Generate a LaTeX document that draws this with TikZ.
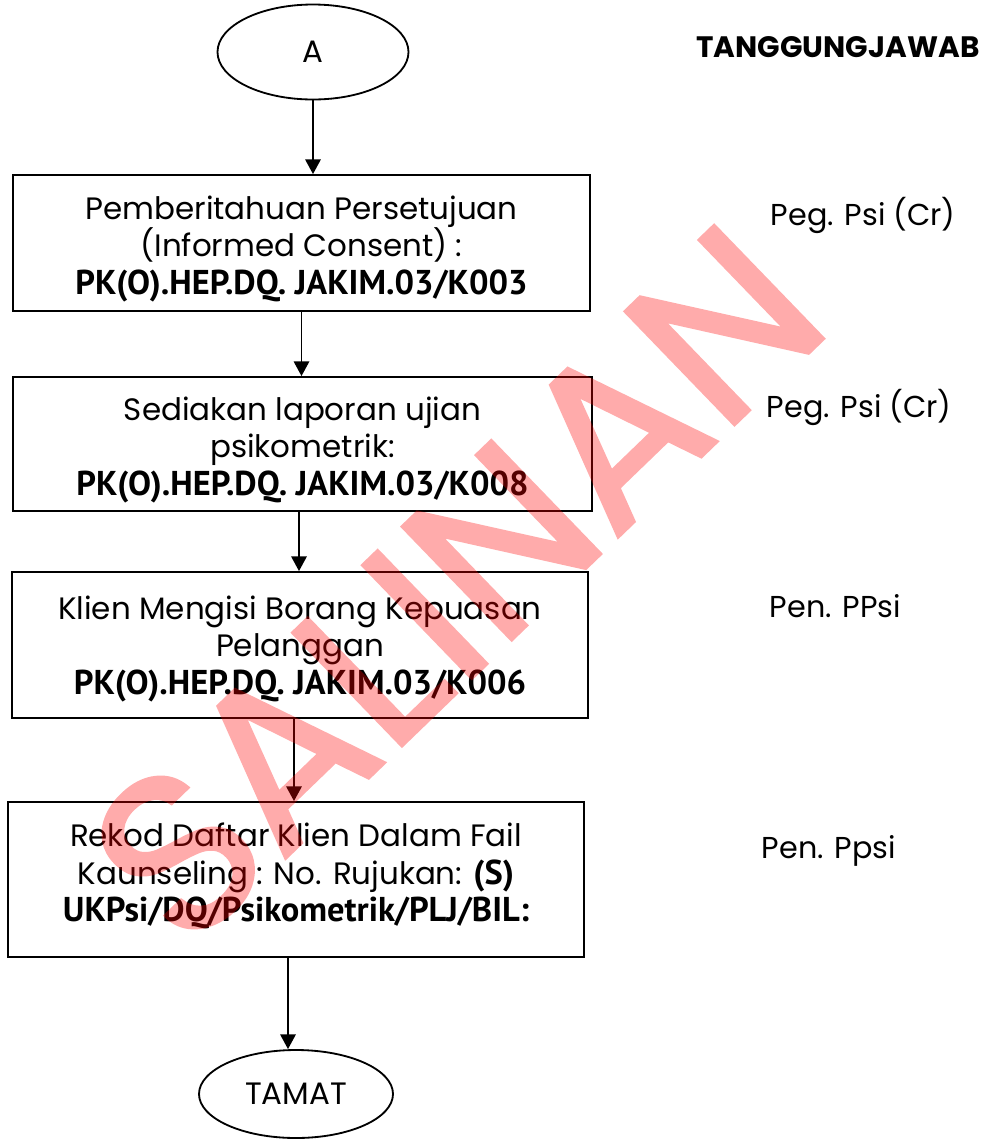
\documentclass[tikz,border=0pt]{standalone}
\usepackage{fontspec}
\setmainfont{Poppins}
\newfontfamily\codefont{PT Sans}
\newfontfamily\markfont[FakeBold=1.6]{Poppins}
\usetikzlibrary{arrows.meta, positioning, calc, shapes.geometric}

\newcommand{\code}[1]{{\codefont\bfseries\fontsize{24.5}{26.5}\selectfont #1}}

\begin{document}
\begin{tikzpicture}[
    x=0.025cm, y=-0.025cm,
    every node/.style={font=\fontsize{22}{26.5}\selectfont},
    stepbox/.style={draw, line width=1.3pt, rectangle, inner sep=0},
    steptext/.style={align=center, inner sep=0},
    endpoint/.style={draw, line width=1.3pt, ellipse, inner sep=0},
    role/.style={anchor=west, font=\fontsize{21.5}{26}\selectfont},
    flow/.style={->, line width=1.3pt},
    >={Triangle[length=10.5pt, width=11pt]}
]
\useasboundingbox (0,0) rectangle (999,1140);

% start and end
\node[endpoint, minimum width=191*0.025cm, minimum height=95*0.025cm] (start) at (313,52) {A};
\node[endpoint, minimum width=194*0.025cm, minimum height=88*0.025cm] (tamat) at (296,1094) {TAMAT};

% steps
\node[stepbox, minimum width=577*0.025cm, minimum height=136*0.025cm] (b1) at (301.5,243) {};
\node[stepbox, minimum width=579*0.025cm, minimum height=134*0.025cm] (b2) at (302.5,444) {};
\node[stepbox, minimum width=576*0.025cm, minimum height=146*0.025cm] (b3) at (300,645) {};
\node[stepbox, minimum width=576*0.025cm, minimum height=155*0.025cm] (b4) at (296,879.5) {};

\node[steptext] (t1) at (301.5,249)
    {Pemberitahuan Persetujuan\\(Informed Consent) :\\\code{PK(O).HEP.DQ. JAKIM.03/K003}};
\node[steptext] (t2) at (302.5,450)
    {Sediakan laporan ujian\\psikometrik:\\\code{PK(O).HEP.DQ. JAKIM.03/K008}};
\node[steptext] (t3) at (300,649)
    {Klien Mengisi Borang Kepuasan\\Pelanggan\\\code{PK(O).HEP.DQ. JAKIM.03/K006}};
\node[steptext] (t4) at (296,876)
    {Rekod Daftar Klien Dalam Fail\\Kaunseling : No. Rujukan: \code{(S)}\\\code{UKPsi/DQ/Psikometrik/PLJ/BIL:}};

% arrows
\draw[flow] (start.south) -- (start.south |- b1.north);
\draw[flow] (b1.south) -- (b1.south |- b2.north);
\draw[flow] ([xshift=-3.5*0.025cm]b2.south) -- ([xshift=-3.5*0.025cm]b2.south |- b3.north);
\draw[flow] ([xshift=-6*0.025cm]b3.south) -- ([xshift=-6*0.025cm]b3.south |- b4.north);
\draw[flow] ([xshift=-8*0.025cm]b4.south) -- ([xshift=-8*0.025cm]b4.south |- tamat.north);

% responsibility column
\node[font=\fontsize{21}{24}\bfseries] (head) at (838,47) {TANGGUNGJAWAB};
\node[role] (r1) at (766,215) {Peg. Psi (Cr)};
\node[role] (r2) at (762,407) {Peg. Psi (Cr)};
\node[role] (r3) at (765,606) {Pen. PPsi};
\node[role] (r4) at (757,851) {Pen. Ppsi};

% watermark
\begin{scope}[transparency group, opacity=0.33]
\node[rotate=44, text=red, font=\markfont\fontsize{160}{160}\selectfont] (mark) at (456,584) {SALINAN};
\end{scope}
\end{tikzpicture}
\end{document}
